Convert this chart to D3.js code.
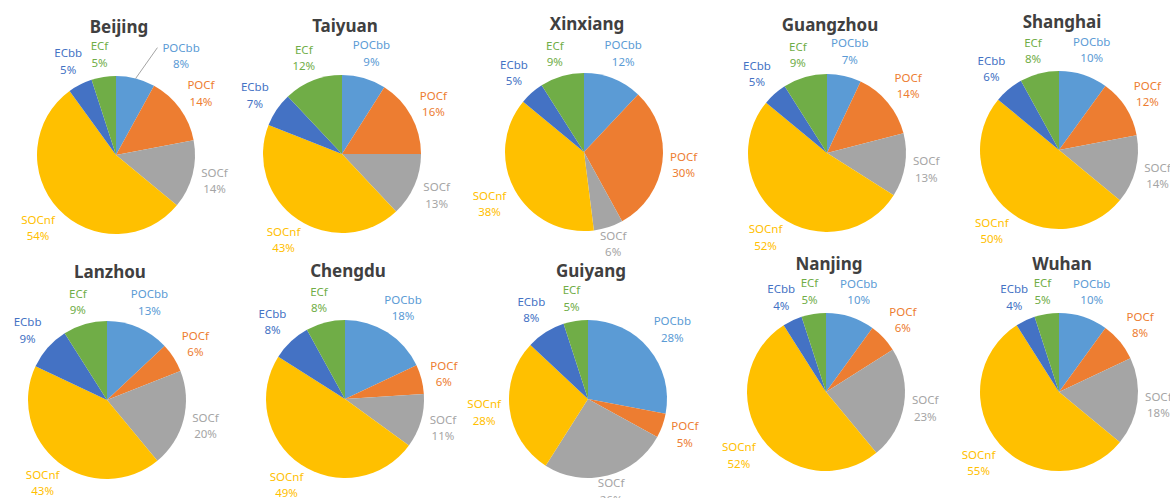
<!DOCTYPE html>
<html lang="en">
<head>
<meta charset="utf-8">
<title>Carbon source pies</title>
<script src="https://cdn.jsdelivr.net/npm/d3@7"></script>
<style>
  body { margin: 0; background: #fff; }
  svg { display: block; }
  .title { font-family: "Noto Sans", "DejaVu Sans", sans-serif; font-weight: bold; font-size: 17px; fill: #404040; }
  .lbl { font-family: "Noto Sans", "DejaVu Sans", sans-serif; font-size: 11.5px; }
</style>
</head>
<body>
<script>
// Components, clockwise from 12 o'clock
var components = ["POCbb", "POCf", "SOCf", "SOCnf", "ECbb", "ECf"];
var colors = ["#5B9BD5", "#ED7D31", "#A5A5A5", "#FFC000", "#4472C4", "#70AD47"];

var cities = ["Beijing", "Taiyuan", "Xinxiang", "Guangzhou", "Shanghai",
              "Lanzhou", "Chengdu", "Guiyang", "Nanjing", "Wuhan"];

// percent shares, same order as components
var beijing   = [8, 14, 14, 54, 5, 5];
var taiyuan   = [9, 16, 13, 43, 7, 12];
var xinxiang  = [12, 30, 6, 38, 5, 9];
var guangzhou = [7, 14, 13, 52, 5, 9];
var shanghai  = [10, 12, 14, 50, 6, 8];
var lanzhou   = [13, 6, 20, 43, 9, 9];
var chengdu   = [18, 6, 11, 49, 8, 8];
var guiyang   = [28, 5, 26, 28, 8, 5];
var nanjing   = [10, 6, 23, 52, 4, 5];
var wuhan     = [10, 8, 18, 55, 4, 5];

var shares = [beijing, taiyuan, xinxiang, guangzhou, shanghai,
              lanzhou, chengdu, guiyang, nanjing, wuhan];

// layout: pie centres
var centersX = [116, 342, 584, 827, 1059, 107, 345, 588, 826, 1059];
var centersY = [155, 154, 152, 153, 150, 400, 399, 399, 392, 392];
var radius = 79;
var pad = 6;

var w = 1170, h = 498;

var svg = d3.select("body").append("svg")
  .attr("width", w)
  .attr("height", h);

svg.append("rect").attr("width", w).attr("height", h).attr("fill", "#fff");

var color = d3.scaleOrdinal().domain(components).range(colors);

var pie = d3.pie()
  .sort(null)
  .value(function(d){ return d.value; });

var arc = d3.arc().innerRadius(0).outerRadius(radius);

cities.forEach(function(city, i){
  var data = components.map(function(c, j){ return {name: c, value: shares[i][j]}; });
  var cx = centersX[i], cy = centersY[i];

  var g = svg.append("g").attr("transform", "translate(" + cx + "," + cy + ")");

  g.append("text")
    .attr("class", "title")
    .attr("x", 3)
    .attr("y", -122)
    .attr("text-anchor", "middle")
    .text(city);

  var arcs = pie(data);

  g.selectAll("path.slice")
    .data(arcs)
    .enter()
    .append("path")
    .attr("class", "slice")
    .attr("d", arc)
    .attr("fill", function(d){ return color(d.data.name); });

  arcs.forEach(function(d){
    var a = (d.startAngle + d.endAngle) / 2;
    var dx = Math.sin(a), dy = -Math.cos(a);

    var lg = g.append("g");
    var t = lg.append("text")
      .attr("class", "lbl")
      .attr("text-anchor", "middle")
      .attr("fill", color(d.data.name));
    t.append("tspan").attr("x", 0).attr("y", -3).text(d.data.name);
    t.append("tspan").attr("x", 0).attr("y", 13.5).text(d.data.value + "%");

    var bb = t.node().getBBox();
    var bw = bb.width, bh = bb.height;
    var cxo = bb.x + bw / 2, cyo = bb.y + bh / 2;
    var dist = radius + pad + Math.abs(dx) * bw / 2 + Math.abs(dy) * bh / 2;
    // labels straight below the pie sit a bit closer to the rim
    if (dy > 0) dist -= Math.pow(dy, 4) * 10;
    var lx = dx * dist - cxo, ly = dy * dist - cyo;

    // Beijing POCbb label is pushed aside with a leader line
    if (city === "Beijing" && d.data.name === "POCbb") {
      lx += 39; ly += 2;
      g.append("line")
        .attr("x1", dx * radius).attr("y1", dy * radius)
        .attr("x2", lx + bb.x - 5).attr("y2", ly - 7)
        .attr("stroke", "#8c8c8c")
        .attr("stroke-width", 0.8);
    }
    lg.attr("transform", "translate(" + lx + "," + ly + ")");
  });
});
</script>
</body>
</html>
